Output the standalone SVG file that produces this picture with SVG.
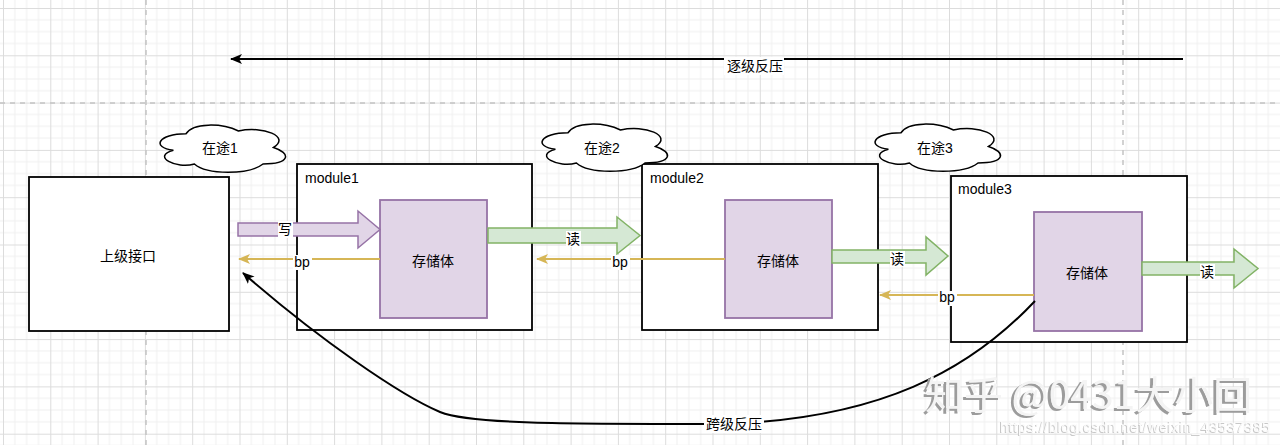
<svg xmlns="http://www.w3.org/2000/svg" width="1280" height="445" viewBox="0 0 1280 445">
<defs>
<pattern id="grid" x="3" y="8" width="47.3" height="47.3" patternUnits="userSpaceOnUse">
<path d="M11.825 0V47.3M23.65 0V47.3M35.475 0V47.3M0 11.825H47.3M0 23.65H47.3M0 35.475H47.3" stroke="#efefef" stroke-width="1" fill="none"/>
<path d="M0.5 0V47.3M0 0.5H47.3" stroke="#dcdcdc" stroke-width="1" fill="none"/>
</pattern>
<marker id="arrBlack" viewBox="0 0 12 10" refX="11" refY="5" markerWidth="12" markerHeight="10" markerUnits="userSpaceOnUse" orient="auto"><path d="M0,0 L12,5 L0,10 L3,5 Z" fill="#000"/></marker>
<marker id="arrGold" viewBox="0 0 12 10" refX="11" refY="5" markerWidth="12" markerHeight="10" markerUnits="userSpaceOnUse" orient="auto"><path d="M0,0 L12,5 L0,10 L3,5 Z" fill="#d6b656"/></marker>
<filter id="wmShadow" x="-5%" y="-20%" width="110%" height="140%">
<feDropShadow dx="-3" dy="2" stdDeviation="0.3" flood-color="#9c9c9c" flood-opacity="1"/>
</filter>
<filter id="urlShadow" x="-5%" y="-30%" width="110%" height="160%">
<feDropShadow dx="-1" dy="1" stdDeviation="0.2" flood-color="#c8c8c8" flood-opacity="1"/>
</filter>
<path id="cloudShape" d="M35,13.75 C7,13.75 0,27.5 22.4,30.25 C0,36.3 25.2,49.5 43.4,44 C56,55 98,55 112,44 C140,44 140,33 122.5,27.5 C140,16.5 112,5.5 87.5,11 C70,2.75 42,2.75 35,13.75 Z"/>
<style>
.box{fill:#fff;stroke:#000;stroke-width:1.8}
.store{fill:#e1d5e7;stroke:#9673a6;stroke-width:1.8}
.cloud{fill:#fff;stroke:#000;stroke-width:1.5}
.purple{fill:#e1d5e7;stroke:#9673a6;stroke-width:1.5}
.green{fill:#d5e8d4;stroke:#82b366;stroke-width:1.5}
.bp{stroke:#d6b656;stroke-width:2;fill:none}
.blk{stroke:#000;stroke-width:2;fill:none}
.pb{stroke:#c4c4c4;stroke-width:1.5;stroke-dasharray:5 5;fill:none}
.bg{fill:#fff}
text{font-family:"Liberation Sans","Noto Sans CJK SC",sans-serif;font-size:14px;fill:#000}
.c{text-anchor:middle;dominant-baseline:central}
.m{text-anchor:middle}
.wm{font-family:"Noto Sans CJK SC","Liberation Sans",sans-serif;font-size:39px}
.url{font-family:"Liberation Sans",sans-serif;font-size:14.5px}
</style>
</defs>

<rect width="1280" height="445" fill="#fff"/>
<rect width="1280" height="445" fill="url(#grid)"/>
<g id="page-breaks">
<path class="pb" d="M0 103H1280M146 0V445M1123 0V445"/>
</g>

<g id="upper">
<rect class="box" x="29" y="177" width="200" height="154"/>
<text class="c" x="128" y="256">上级接口</text>
</g>

<g id="module1">
<rect class="box" x="297" y="164" width="235" height="166"/>
<text x="305" y="183">module1</text>
</g>
<g id="store1">
<rect class="store" x="380" y="200" width="107" height="118"/>
<text class="c" x="433" y="261">存储体</text>
</g>

<g id="module2">
<rect class="box" x="642" y="164" width="236" height="166"/>
<text x="650" y="183">module2</text>
</g>
<g id="store2">
<rect class="store" x="725" y="200" width="107" height="118"/>
<text class="c" x="778" y="261">存储体</text>
</g>

<g id="module3">
<rect class="box" x="951" y="176" width="236" height="166"/>
<text x="958" y="194">module3</text>
</g>
<g id="store3">
<rect class="store" x="1034" y="212" width="108" height="119"/>
<text class="c" x="1087" y="273">存储体</text>
</g>

<g id="cloud1">
<use href="#cloudShape" class="cloud" transform="translate(151,120)"/>
<text class="c" x="220" y="148">在途1</text>
</g>
<g id="cloud2">
<use href="#cloudShape" class="cloud" transform="translate(533,119)"/>
<text class="c" x="602" y="148">在途2</text>
</g>
<g id="cloud3">
<use href="#cloudShape" class="cloud" transform="translate(866,119)"/>
<text class="c" x="935" y="148">在途3</text>
</g>

<g id="connectors">
<path class="blk" d="M1183 59H231" marker-end="url(#arrBlack)"/>
<rect class="bg" x="724" y="57" width="60" height="18"/>
<text class="c" x="755" y="66">逐级反压</text>

<polygon class="purple" points="238,223 358,223 358,211 380,229.5 358,248 358,236 238,236"/>
<rect class="bg" x="278" y="221" width="15" height="17"/>
<text class="c" x="285" y="229">写</text>

<polygon class="green" points="488,228 617,228 617,217 640,235.5 617,254 617,243 488,243"/>
<rect class="bg" x="566" y="231" width="15" height="16"/>
<text class="c" x="573" y="239">读</text>

<polygon class="green" points="832,250 926,250 926,237 948,256 926,275 926,263 832,263"/>
<rect class="bg" x="890" y="251" width="15" height="16"/>
<text class="c" x="897" y="259">读</text>

<polygon class="green" points="1142,262 1234,262 1234,249 1258,268.5 1234,288 1234,275 1142,275"/>
<rect class="bg" x="1200" y="264" width="15" height="16"/>
<text class="c" x="1207" y="272">读</text>

<path class="bp" d="M380 259H239" marker-end="url(#arrGold)"/>
<rect class="bg" x="293" y="255" width="19" height="15"/>
<text class="m" x="302" y="266.5">bp</text>

<path class="bp" d="M725 259H537" marker-end="url(#arrGold)"/>
<rect class="bg" x="611" y="255" width="19" height="15"/>
<text class="m" x="620" y="266.5">bp</text>

<path class="bp" d="M1034 295H880" marker-end="url(#arrGold)"/>
<rect class="bg" x="938" y="291" width="19" height="15"/>
<text class="m" x="947" y="302">bp</text>

<path class="blk" d="M1035,301 C970,370 880,420 720,424 C560,424 470,424 440,412 C400,395 320,340 243,273" marker-end="url(#arrBlack)"/>
<rect class="bg" x="704" y="415" width="60" height="18"/>
<text class="c" x="734" y="424">跨级反压</text>
</g>

<g id="watermark">
<text class="wm" x="925" y="409" style="fill:#f4f4f4" filter="url(#wmShadow)">知乎 @0431大小回</text>
<text class="url" x="1000" y="432" style="fill:#fbfbfb" textLength="270" filter="url(#urlShadow)">https://blog.csdn.net/weixin_43537385</text>
</g>
</svg>
